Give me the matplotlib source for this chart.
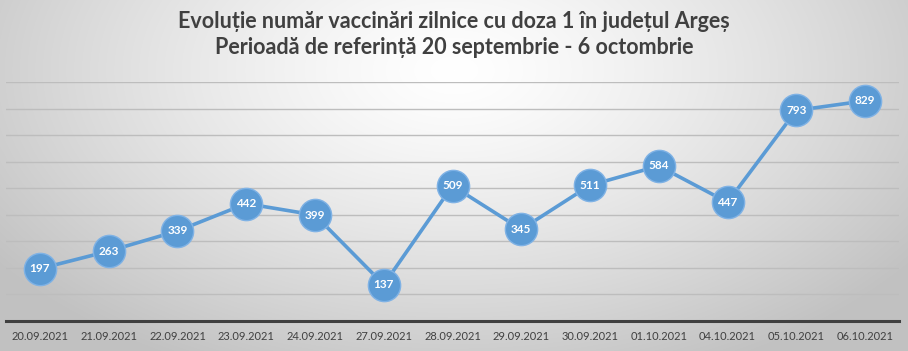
import numpy as np
import matplotlib.pyplot as plt

date_labels = ["20.09.2021", "21.09.2021", "22.09.2021", "23.09.2021", "24.09.2021",
               "27.09.2021", "28.09.2021", "29.09.2021", "30.09.2021", "01.10.2021",
               "04.10.2021", "05.10.2021", "06.10.2021"]
vaccinari = [197, 263, 339, 442, 399, 137, 509, 345, 511, 584, 447, 793, 829]

fig = plt.figure(figsize=(9.08, 3.51), dpi=100)

# fundal cu gradient radial
bg = fig.add_axes([0, 0, 1, 1], zorder=0)
yy, xx = np.mgrid[0:351, 0:908]
r = np.sqrt(((xx - 454) / 560.0) ** 2 + ((yy - 70) / 330.0) ** 2)
r = np.clip(r, 0, 1)
shade = 1.0 - 0.24 * r ** 1.3
bg.imshow(np.dstack([shade, shade, shade]), aspect="auto", extent=[0, 1, 0, 1])
bg.set_axis_off()

ax = fig.add_axes([5.6 / 908, 30 / 351, 893.8 / 908, 239 / 351], zorder=1)
ax.patch.set_alpha(0)
x = np.arange(len(vaccinari))
ax.plot(x, vaccinari, color="#5B9BD5", lw=2.6, zorder=2)
ax.scatter(x, vaccinari, s=540, color="#5B9BD5", edgecolor="#7FB2E5", linewidth=1.0, zorder=3)
for xi, v in zip(x, vaccinari):
    ax.text(xi, v, str(v), ha="center", va="center", color="white", fontsize=8.5,
            fontweight="bold", family="Lato", zorder=4)

ax.set_xlim(-0.5, len(vaccinari) - 0.5)
ax.set_ylim(0, 900)
ax.set_yticks(np.arange(0, 901, 100))
ax.yaxis.grid(True, color="#BDBDBD", lw=1)
ax.set_axisbelow(True)
ax.tick_params(left=False, labelleft=False, bottom=False)
ax.set_xticks(x)
ax.set_xticklabels(date_labels, fontsize=8, color="#404040", family="Lato")
for s in ["top", "right", "left"]:
    ax.spines[s].set_visible(False)
ax.spines["bottom"].set_color("#404040")
ax.spines["bottom"].set_linewidth(2.2)

fig.text(0.5, 1 - 22 / 351, "Evoluție număr vaccinări zilnice cu doza 1 în județul Argeș",
         ha="center", va="center", fontsize=15.5, fontweight="bold", color="#404040", family="Lato")
fig.text(0.5, 1 - 48 / 351, "Perioadă de referință 20 septembrie - 6 octombrie",
         ha="center", va="center", fontsize=15.5, fontweight="bold", color="#404040", family="Lato")

plt.savefig("out.png", dpi=100)
